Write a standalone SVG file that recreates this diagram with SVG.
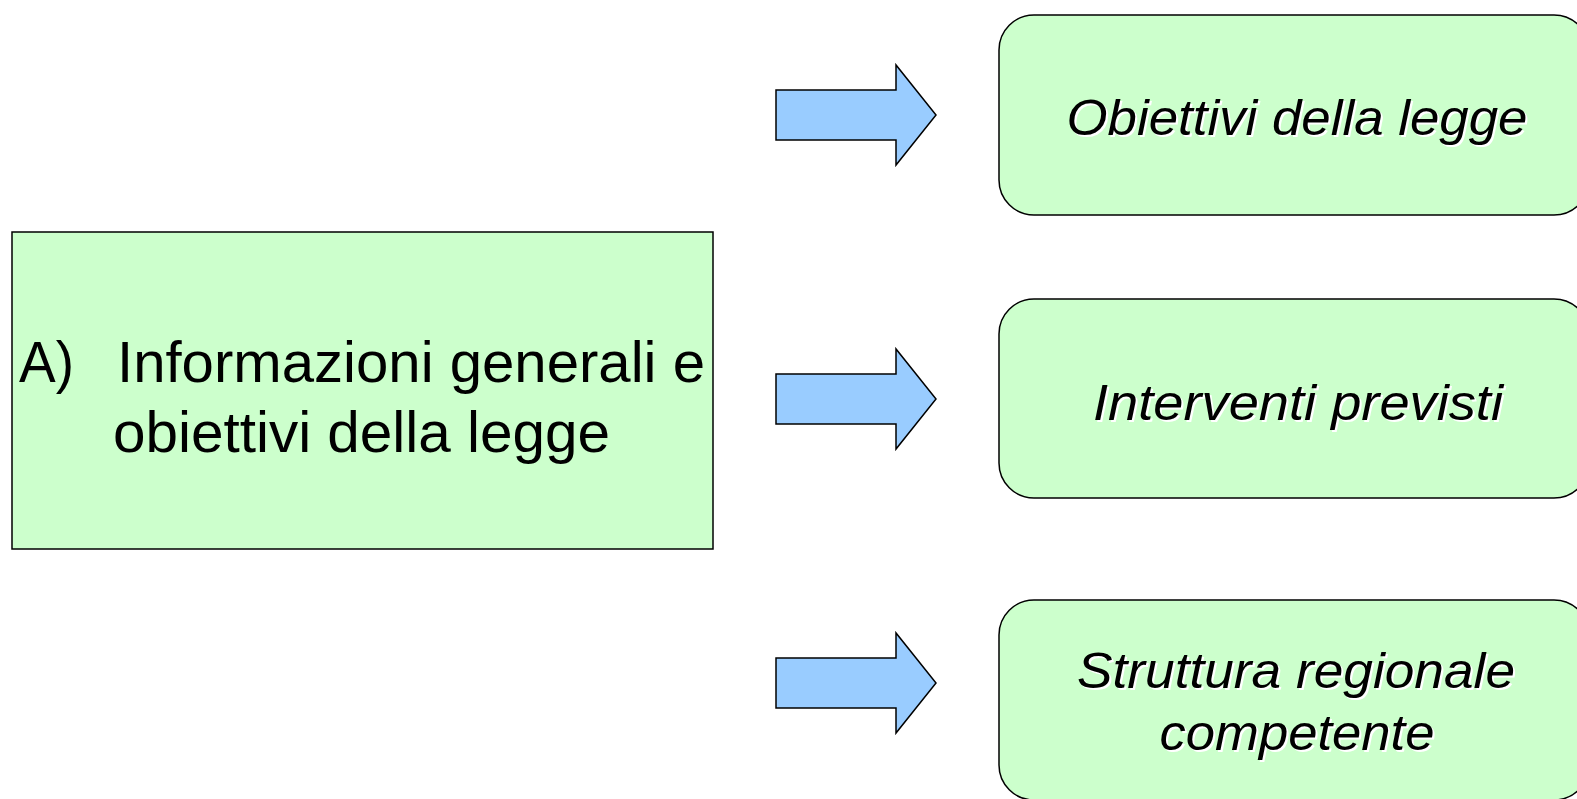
<svg xmlns="http://www.w3.org/2000/svg" width="1577" height="799" viewBox="0 0 1577 799">
<style>
.box{fill:#ccffcc;stroke:#000;stroke-width:1.5}
.arrow{fill:#99ccff;stroke:#000;stroke-width:1.5;stroke-linejoin:miter}
.main{font-family:"Liberation Sans",Arial,sans-serif;font-size:58px;fill:#000}
.lbl{font-family:"Liberation Sans",Arial,sans-serif;font-size:50px;font-style:italic;text-anchor:middle}
.shadow{fill:#fff}
.fg{fill:#000}
</style>
<rect width="1577" height="799" fill="#fff"/>
<g id="connectors">
<polygon class="arrow" points="776,90 896,90 896,65 936,115 896,165 896,140 776,140"/>
<polygon class="arrow" points="776,374 896,374 896,349 936,399 896,449 896,424 776,424"/>
<polygon class="arrow" points="776,658 896,658 896,633 936,683 896,733 896,708 776,708"/>
</g>
<g id="node-main">
<rect class="box" x="12" y="232" width="701" height="317"/>
<text class="main" x="19" y="382" textLength="55" lengthAdjust="spacingAndGlyphs">A)</text>
<text class="main" x="117" y="382" textLength="588" lengthAdjust="spacingAndGlyphs">Informazioni generali e</text>
<text class="main" x="113" y="452" textLength="497" lengthAdjust="spacingAndGlyphs">obiettivi della legge</text>
</g>
<g id="node-obiettivi">
<rect class="box" x="999" y="15" width="590" height="200" rx="35" ry="35"/>
<text class="lbl shadow" x="1299" y="137" textLength="461" lengthAdjust="spacingAndGlyphs">Obiettivi della legge</text>
<text class="lbl fg" x="1297" y="135" textLength="461" lengthAdjust="spacingAndGlyphs">Obiettivi della legge</text>
</g>
<g id="node-interventi">
<rect class="box" x="999" y="299" width="590" height="199" rx="35" ry="35"/>
<text class="lbl shadow" x="1300" y="422" textLength="410" lengthAdjust="spacingAndGlyphs">Interventi previsti</text>
<text class="lbl fg" x="1298" y="420" textLength="410" lengthAdjust="spacingAndGlyphs">Interventi previsti</text>
</g>
<g id="node-struttura">
<rect class="box" x="999" y="600" width="590" height="200" rx="35" ry="35"/>
<text class="lbl shadow" x="1298" y="690" textLength="438" lengthAdjust="spacingAndGlyphs">Struttura regionale</text>
<text class="lbl fg" x="1296" y="688" textLength="438" lengthAdjust="spacingAndGlyphs">Struttura regionale</text>
<text class="lbl shadow" x="1299" y="752" textLength="275" lengthAdjust="spacingAndGlyphs">competente</text>
<text class="lbl fg" x="1297" y="750" textLength="275" lengthAdjust="spacingAndGlyphs">competente</text>
</g>
</svg>
